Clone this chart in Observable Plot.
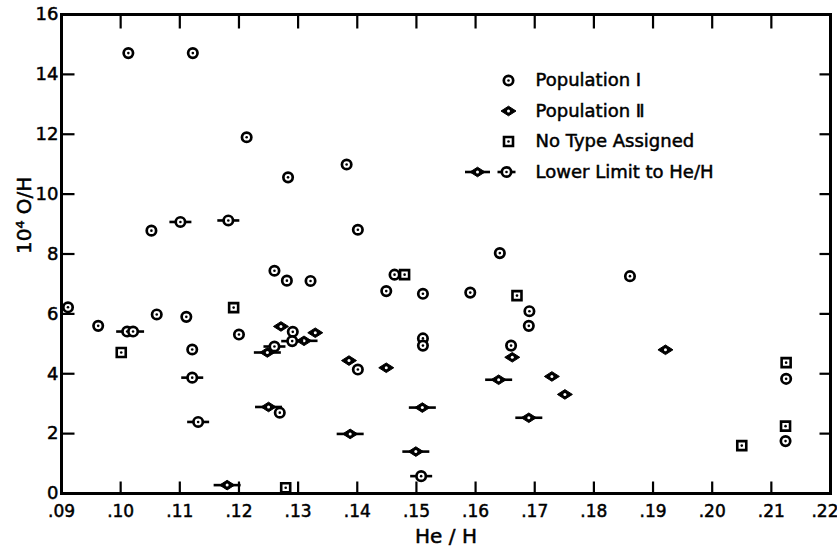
<!DOCTYPE html>
<html><head><meta charset="utf-8">
<script src="https://cdn.jsdelivr.net/npm/d3@7"></script>
<script src="https://cdn.jsdelivr.net/npm/@observablehq/plot@0.6"></script>
<style>body{margin:0;background:#fff} #chart{width:837px;height:550px}
#chart svg text{stroke:#000;stroke-width:0.5px;}</style>
</head><body><div id="chart"></div>
<script>
// Population I (circle)
const popI = [
  [.1013,14.71],[.1122,14.71],[.1213,11.90],[.1283,10.56],[.1382,10.99],[.1401,8.81],
  [.1052,8.78],[.1260,7.44],[.1281,7.11],[.1321,7.10],[.1463,7.31],[.1449,6.76],
  [.1511,6.67],[.1591,6.71],[.1641,8.03],[.1861,7.26],[.1691,6.09],[.1690,5.60],
  [.1511,5.18],[.1511,4.94],[.1660,4.94],[.0911,6.22],[.0962,5.60],[.1061,5.98],
  [.1111,5.90],[.1121,4.81],[.1200,5.31],[.1291,5.40],[.1401,4.14],[.1269,2.70],
  [.2125,3.83],[.2124,1.75]
];
// Population II (diamond)
const popII = [
  [.1271,5.58],[.1329,5.37],[.1386,4.44],[.1449,4.20],[.1662,4.55],[.1729,3.91],
  [.1751,3.31],[.1921,4.80]
];
// No type assigned (square)
const noType = [
  [.1001,4.71],[.1191,6.21],[.1480,7.31],[.1670,6.61],[.1279,0.19],[.2050,1.60],
  [.2125,4.37],[.2124,2.25]
];
// Lower limit to He/H, Population I (circle with bar)
const lowerI = [
  [.1101,9.07],[.1182,9.12],[.1011,5.41],[.1021,5.41],[.1121,3.87],[.1131,2.39],
  [.1260,4.91],[.1290,5.09],[.1508,0.58]
];
// Lower limit to He/H, Population II (diamond with bar)
const lowerII = [
  [.1180,0.28],[.1248,4.71],[.1250,2.89],[.1310,5.10],[.1388,1.99],[.1510,2.87],
  [.1499,1.40],[.1639,3.80],[.1690,2.53]
];
const xTicks = [.09,.10,.11,.12,.13,.14,.15,.16,.17,.18,.19,.20,.21,.22];
const yTicks = [0,2,4,6,8,10,12,14,16];
const legendLabels = ["Population \u2160","Population \u2161","No Type Assigned","Lower Limit to He/H"];
const xLabel = "He / H";
const yLabel = "10\u2074 O/H";

const FONT = "DejaVu Sans";
const diamond = {draw(c){c.moveTo(-7.5,0);c.lineTo(0,-4.8);c.lineTo(7.5,0);c.lineTo(0,4.8);c.closePath();}};
const barI = {draw(c){c.moveTo(-11,0);c.lineTo(11,0);}};
const barII = {draw(c){c.moveTo(-13.5,0);c.lineTo(13.5,0);}};
const sq = {draw(c){c.rect(-4.5,-4.5,9,9);}};
const tickUp = {draw(c){c.moveTo(0,0);c.lineTo(0,-12);}};
const tickDown = {draw(c){c.moveTo(0,0);c.lineTo(0,14);}};
const tickRight = {draw(c){c.moveTo(0,0);c.lineTo(13,0);}};
const tickLeft = {draw(c){c.moveTo(0,0);c.lineTo(-11,0);}};
const fmtX = d => d.toFixed(2).slice(1);
// inner tick rows (exclude frame ends)
const xTickRows = xTicks.slice(1,-1).map(v=>({v}));
const yTickRows = yTicks.slice(1,-1).map(v=>({v}));
const xMin = xTicks[0], xMax = xTicks[xTicks.length-1];
const yMin = yTicks[0], yMax = yTicks[yTicks.length-1];

function circleMarks(data) {
  return [
    Plot.dot(data,{x:d=>d[0],y:d=>d[1],r:4.7,stroke:"black",strokeWidth:2.7,fill:"white"}),
    Plot.dot(data,{x:d=>d[0],y:d=>d[1],r:1.3,fill:"black"})
  ];
}
function diamondMarks(data) {
  return [
    Plot.dot(data,{x:d=>d[0],y:d=>d[1],r:5,symbol:diamond,fill:"black",stroke:"black",strokeWidth:1}),
    Plot.dot(data,{x:d=>d[0],y:d=>d[1],r:1.5,fill:"white"})
  ];
}
function squareMarks(data) {
  return [
    Plot.dot(data,{x:d=>d[0],y:d=>d[1],r:5,symbol:sq,stroke:"black",strokeWidth:2.6,fill:"white"}),
    Plot.dot(data,{x:d=>d[0],y:d=>d[1],r:1.3,fill:"black"})
  ];
}
function barMarks(data, sym) {
  return [Plot.dot(data,{x:d=>d[0],y:d=>d[1],r:5,symbol:sym,stroke:"black",strokeWidth:2.6,fill:"none"})];
}

// legend rows
const legendMarks = [];
const rowDy = i => 66 + 30.5*i;
legendLabels.forEach((lab,i)=>{
  legendMarks.push(Plot.text([lab],{frameAnchor:"top-left",dx:474,dy:rowDy(i),lineAnchor:"middle",text:d=>d,textAnchor:"start",fontSize:18,fontFamily:FONT,fill:"black"}));
});
const legAt = (dx,i) => ({frameAnchor:"top-left",dx,dy:rowDy(i)});
const one = [[0,0]];
function legDot(kind, dx, i){
  const o = legAt(dx,i);
  const base = (extra)=>Plot.dot(one,{...o,...extra});
  if(kind==="circle") return [base({r:4.7,stroke:"black",strokeWidth:2.7,fill:"white"}),base({r:1.3,fill:"black"})];
  if(kind==="diamond") return [base({r:5,symbol:diamond,fill:"black",stroke:"black",strokeWidth:1}),base({r:1.5,fill:"white"})];
  if(kind==="square") return [base({r:5,symbol:sq,stroke:"black",strokeWidth:2.6,fill:"white"}),base({r:1.3,fill:"black"})];
  if(kind==="barI") return [base({r:5,symbol:{draw(c){c.moveTo(-9,0);c.lineTo(9,0);}},stroke:"black",strokeWidth:2.6,fill:"none"})];
  if(kind==="barII") return [base({r:5,symbol:{draw(c){c.moveTo(-12.5,0);c.lineTo(12.5,0);}},stroke:"black",strokeWidth:2.6,fill:"none"})];
}

const chart = Plot.plot({
  width: 837, height: 550,
  marginLeft: 61, marginRight: 7, marginTop: 14, marginBottom: 57,
  style: {fontFamily: FONT},
  x: {domain: [xMin, xMax]},
  y: {domain: [yMin, yMax]},
  marks: [
    Plot.frame({stroke:"black",strokeWidth:3,fill:"none"}),
    Plot.axisX(xTicks.slice(0,-1),{tickSize:0,tickPadding:11,tickFormat:fmtX,fontSize:17,label:null}),
    Plot.text(xTicks.slice(-1),{x:d=>d,frameAnchor:"bottom",dy:18,dx:8,textAnchor:"end",lineAnchor:"middle",text:fmtX,fontSize:17}),
    Plot.axisY(yTicks,{tickSize:0,tickPadding:3,fontSize:18,label:null}),
    Plot.text([xLabel],{frameAnchor:"bottom",dy:43,lineAnchor:"middle",text:d=>d,fontSize:20}),
    Plot.text([yLabel],{frameAnchor:"left",dx:-37,rotate:-90,text:d=>d,fontSize:20}),
    ...barMarks(lowerII, barII),
    ...diamondMarks(popII),
    ...diamondMarks(lowerII),
    ...barMarks(lowerI, barI),
    ...squareMarks(noType),
    ...circleMarks(popI),
    ...circleMarks(lowerI),
    ...legDot("circle",447,0),
    ...legDot("diamond",447,1),
    ...legDot("square",447,2),
    ...legDot("barII",416,3),
    ...legDot("diamond",416,3),
    ...legDot("barI",445,3),
    ...legDot("circle",445,3),
    ...legendMarks,
    // inward tick marks on all four sides, drawn as line symbols anchored on the frame
    Plot.dot(xTickRows,{x:"v",y:()=>yMin,r:6,symbol:tickUp,stroke:"black",strokeWidth:2.2,fill:"none"}),
    Plot.dot(xTickRows,{x:"v",y:()=>yMax,r:6,symbol:tickDown,stroke:"black",strokeWidth:2.2,fill:"none"}),
    Plot.dot(yTickRows,{y:"v",x:()=>xMin,r:6,symbol:tickRight,stroke:"black",strokeWidth:2.2,fill:"none"}),
    Plot.dot(yTickRows,{y:"v",x:()=>xMax,r:6,symbol:tickLeft,stroke:"black",strokeWidth:2.2,fill:"none"})
  ]
});
document.getElementById("chart").appendChild(chart);
</script>
</body></html>
